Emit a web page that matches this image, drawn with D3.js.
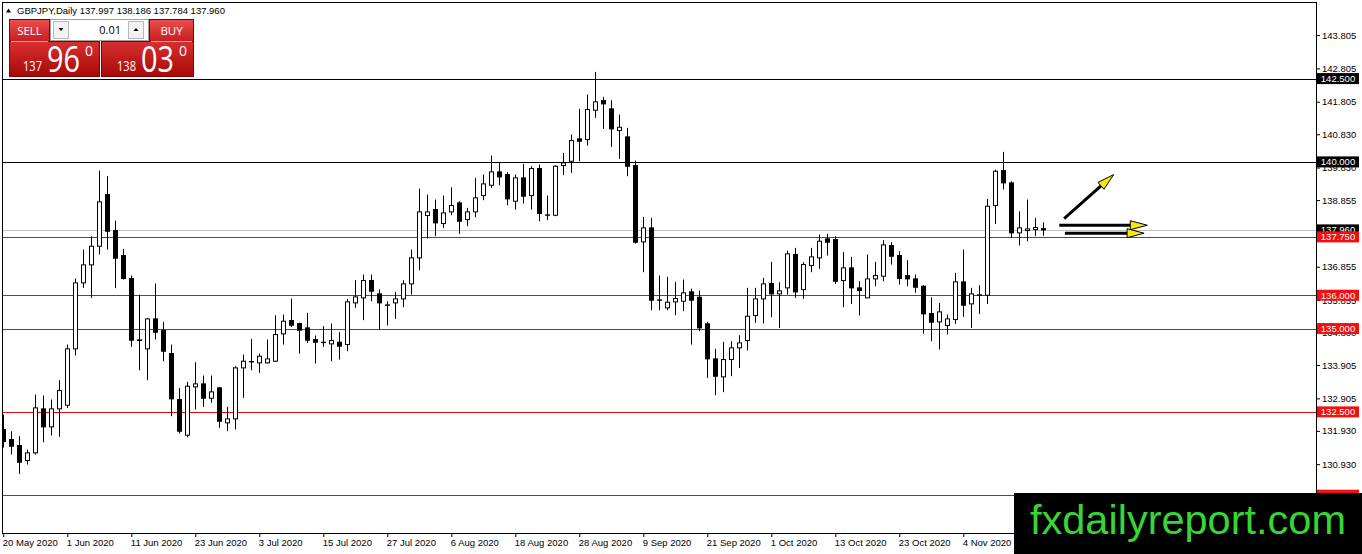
<!DOCTYPE html>
<html>
<head>
<meta charset="utf-8">
<script src="https://cdn.jsdelivr.net/npm/d3@7"></script>
<style>
  html, body { margin: 0; padding: 0; background: #fff; overflow: hidden; }
  svg { display: block; font-family: "Liberation Sans", Arial, sans-serif; }
</style>
</head>
<body>
<div id="chart"></div>
<script>
// GBPJPY daily candles, 20 May 2020 .. 18 Nov 2020 (one bar per weekday)
const symbolName = "GBPJPY,Daily";

const opens = [131.97,131.67,131.49,131.04,131.27,132.59,132.05,132.59,132.70,134.39,
  136.37,136.91,137.47,139.02,137.94,137.19,136.50,134.64,134.39,135.29,
  134.94,134.25,132.87,131.80,133.25,133.34,132.91,133.22,132.17,132.29,
  133.82,134.00,133.97,133.97,134.02,134.84,135.24,135.15,135.02,134.67,
  134.59,134.54,134.59,134.52,135.77,135.92,136.44,136.04,135.70,135.77,
  135.89,136.34,137.12,138.39,138.57,138.15,138.50,138.77,138.27,138.50,
  138.99,139.30,139.70,139.62,138.82,139.52,138.99,139.80,138.40,138.40,
  139.89,140.02,140.69,140.67,141.55,141.84,141.59,140.94,140.75,139.89,
  137.60,138.02,135.85,135.62,135.80,135.82,136.10,135.94,135.14,134.09,
  133.55,134.07,134.42,134.64,135.39,135.89,136.35,136.04,136.22,137.22,
  136.17,136.89,137.12,137.69,137.67,136.44,136.82,136.22,135.92,136.49,
  136.57,137.49,137.19,136.59,136.49,136.27,135.45,135.20,135.09,135.27,
  136.40,135.74,136.00,136.00,138.69,139.74,139.37,137.87,137.94,137.97,
  137.997];

const highs = [132.42,131.92,131.77,131.37,133.02,132.99,132.87,133.45,134.52,136.50,
  137.37,137.77,139.74,139.57,138.24,137.39,136.59,136.01,135.32,136.35,
  135.20,134.52,133.22,133.40,133.99,133.59,133.59,133.25,132.65,133.87,
  134.22,134.69,134.25,134.67,135.40,135.42,135.90,135.17,135.47,134.79,
  135.07,135.15,134.89,135.89,136.45,136.62,136.62,136.17,135.82,136.10,
  136.45,137.37,139.20,139.02,138.87,138.99,139.24,138.82,138.62,139.52,
  139.62,140.19,139.99,139.69,139.62,139.94,139.87,139.92,138.99,139.90,
  140.27,140.82,141.59,142.02,142.70,141.95,141.85,141.42,141.02,140.04,
  138.35,138.32,136.59,136.55,136.40,136.47,136.20,136.14,135.20,134.39,
  134.60,134.62,134.80,136.22,136.22,136.52,137.00,136.39,137.34,137.42,
  136.99,137.42,137.82,137.84,137.77,137.30,137.15,136.42,137.22,137.00,
  137.65,137.59,137.32,137.05,136.62,136.30,135.94,135.77,135.42,136.67,
  137.37,136.22,136.30,138.89,139.77,140.30,139.42,138.52,138.87,138.32,
  138.186];

const lows = [131.43,131.22,130.64,130.92,131.22,131.59,131.79,131.75,132.62,134.19,
  136.22,135.92,137.22,137.37,136.21,136.47,134.45,133.75,133.45,134.67,
  134.02,132.37,131.85,131.74,132.57,132.65,132.77,132.02,131.92,131.97,
  132.92,133.75,133.67,133.95,134.00,134.52,135.05,134.25,134.57,133.95,
  134.45,134.02,134.07,134.32,135.62,135.25,135.82,134.95,135.09,135.29,
  135.64,136.02,136.75,137.70,137.77,138.02,138.40,137.84,138.07,138.34,
  138.85,139.22,139.30,138.70,138.57,138.75,138.57,138.22,138.25,138.37,
  139.60,139.67,140.02,140.49,141.32,140.99,140.45,140.09,139.57,137.55,
  136.69,135.55,135.55,135.55,135.40,135.52,134.52,134.92,133.52,133.00,
  133.09,133.57,133.82,134.34,135.17,135.15,135.34,135.02,136.02,135.92,
  135.89,136.69,136.79,137.19,136.34,135.64,135.74,135.39,135.92,136.27,
  136.42,136.92,136.32,136.27,136.07,134.85,134.62,134.37,134.82,135.14,
  135.35,135.02,135.44,135.74,138.14,139.17,137.72,137.49,137.62,137.77,
  137.784];

const closes = [131.61,131.47,130.99,131.27,132.62,132.05,132.59,133.14,134.39,136.37,
  136.91,137.47,138.80,137.92,137.11,136.50,134.65,134.66,135.29,134.89,
  134.32,132.89,131.92,133.27,133.34,132.91,133.10,132.22,132.29,133.82,
  134.02,134.01,134.17,134.09,134.82,135.22,135.10,134.95,134.65,134.59,
  134.58,134.64,134.47,135.80,135.95,136.44,136.12,135.77,135.71,135.89,
  136.34,137.12,138.50,138.50,138.17,138.47,138.69,138.22,138.50,138.92,
  139.34,139.70,139.55,138.89,139.52,138.97,139.80,138.45,138.41,139.87,
  139.97,140.64,140.62,141.57,141.80,141.74,140.99,141.04,139.87,137.59,
  138.02,135.85,135.86,135.79,135.90,136.07,135.85,135.02,134.09,133.57,
  134.07,134.42,134.57,135.37,135.89,136.34,136.04,136.13,137.24,136.10,
  136.92,137.15,137.62,137.59,136.42,136.82,136.22,136.14,136.49,136.59,
  137.51,137.17,136.50,136.49,136.24,135.44,135.19,135.50,135.29,136.40,
  135.70,136.04,136.01,138.67,139.72,139.37,137.87,138.02,137.99,138.03,
  137.960];

// date labels, one every 8 bars
const tickLabels = ["20 May 2020", "1 Jun 2020", "11 Jun 2020", "23 Jun 2020", "3 Jul 2020",
  "15 Jul 2020", "27 Jul 2020", "6 Aug 2020", "18 Aug 2020", "28 Aug 2020", "9 Sep 2020",
  "21 Sep 2020", "1 Oct 2020", "13 Oct 2020", "23 Oct 2020", "4 Nov 2020", "16 Nov 2020"];
const priceTicks = [143.805, 142.805, 141.805, 140.830, 139.830, 138.855, 137.855,
  136.855, 135.855, 134.880, 133.905, 132.905, 131.930, 130.930];

const blackLevels = [142.5, 140.0];
const redLevels = [137.75, 136.0, 135.0, 132.5, 130.0];
const currentPrice = 137.960;
const bidPrice = 137.960;
const askPrice = 138.030;
const lotSize = "0.01";

// arrows drawn on the chart: bar index / price of tail and tip
const arrowFromBar = [132.6, 132.0, 132.7];
const arrowFromPrice = [138.30, 138.10, 137.86];
const arrowToBar = [138.8, 143.0, 142.6];
const arrowToPrice = [139.62, 138.10, 137.86];

const width = 1362, height = 554;
const plotLeft = 2, plotTop = 2, plotRight = 1316, plotBottom = 533;

const svg = d3.select("#chart").append("svg")
    .attr("width", width)
    .attr("height", height);

const defs = svg.append("defs");
defs.append("clipPath").attr("id", "plot-clip")
  .append("rect")
    .attr("x", plotLeft + 1).attr("y", plotTop + 1)
    .attr("width", plotRight - plotLeft - 1).attr("height", plotBottom - plotTop - 1);

const x = d3.scaleLinear().domain([0, 130]).range([3.3, 1043.3]);
const y = d3.scaleLinear().domain([130, 140]).range([495.2, 161.9]);
const px = i => Math.round(x(i)) + 0.5;
const py = p => Math.round(y(p)) + 0.5;

const bars = opens.map((o, i) => ({ i, o, h: highs[i], l: lows[i], c: closes[i] }));

svg.append("rect").attr("width", width).attr("height", height).attr("fill", "#fff");

const plot = svg.append("g").attr("clip-path", "url(#plot-clip)");

// current price line
plot.append("line")
    .attr("x1", plotLeft).attr("x2", plotRight)
    .attr("y1", py(currentPrice)).attr("y2", py(currentPrice))
    .attr("stroke", "#c0c0c0");

// horizontal levels
plot.selectAll("line.black-level").data(blackLevels).join("line")
    .attr("class", "black-level")
    .attr("x1", plotLeft).attr("x2", plotRight)
    .attr("y1", d => py(d)).attr("y2", d => py(d))
    .attr("stroke", "#000");

plot.selectAll("line.red-level").data(redLevels).join("line")
    .attr("class", "red-level")
    .attr("x1", plotLeft).attr("x2", plotRight)
    .attr("y1", d => py(d)).attr("y2", d => py(d))
    .attr("stroke", "#dd1010");

// candles
plot.selectAll("line.wick").data(bars).join("line")
    .attr("class", "wick")
    .attr("x1", d => px(d.i)).attr("x2", d => px(d.i))
    .attr("y1", d => y(d.h)).attr("y2", d => y(d.l))
    .attr("stroke", "#000");

plot.selectAll("rect.body").data(bars).join("rect")
    .attr("class", "body")
    .attr("x", d => px(d.i) - 2)
    .attr("y", d => y(Math.max(d.o, d.c)))
    .attr("width", 4)
    .attr("height", d => Math.max(0.4, Math.abs(y(d.o) - y(d.c))))
    .attr("fill", d => d.c >= d.o ? "#fff" : "#000")
    .attr("stroke", "#000");

// arrows
arrowFromBar.forEach((fb, k) => {
  const x0 = x(fb), y0 = y(arrowFromPrice[k]);
  const x1 = x(arrowToBar[k]), y1 = y(arrowToPrice[k]);
  const ang = Math.atan2(y1 - y0, x1 - x0);
  const headLen = 17, headW = 4.5;
  const bx = x1 - headLen * Math.cos(ang), by = y1 - headLen * Math.sin(ang);
  plot.append("line")
      .attr("x1", x0).attr("y1", y0).attr("x2", bx).attr("y2", by)
      .attr("stroke", "#000").attr("stroke-width", 3);
  plot.append("path")
      .attr("d", d3.line()([
        [x1, y1],
        [bx + headW * Math.sin(ang), by - headW * Math.cos(ang)],
        [bx - headW * Math.sin(ang), by + headW * Math.cos(ang)]
      ]) + "Z")
      .attr("fill", "#f5e614")
      .attr("stroke", "#000")
      .attr("stroke-width", 1);
});

// frame
svg.append("rect")
    .attr("x", plotLeft + 0.5).attr("y", plotTop + 0.5)
    .attr("width", plotRight - plotLeft).attr("height", plotBottom - plotTop)
    .attr("fill", "none").attr("stroke", "#000");

// price axis
const yAxis = svg.append("g")
    .attr("transform", `translate(${plotRight},0)`)
    .call(d3.axisRight(y).tickValues(priceTicks).tickSize(4).tickPadding(2)
      .tickFormat(d3.format(".3f")));
yAxis.select(".domain").remove();
yAxis.selectAll("text")
    .attr("font-family", "Liberation Sans, Arial, sans-serif")
    .attr("font-size", 9.5).attr("fill", "#000");

// time axis
const xAxis = svg.append("g")
    .attr("transform", `translate(0,${plotBottom})`)
    .call(d3.axisBottom(x).tickValues(d3.range(0, 129, 8)).tickSize(4).tickPadding(2)
      .tickFormat(i => tickLabels[i / 8]));
xAxis.select(".domain").remove();
xAxis.selectAll("text")
    .attr("text-anchor", "start")
    .attr("x", -1)
    .attr("font-family", "Liberation Sans, Arial, sans-serif")
    .attr("font-size", 9.5).attr("fill", "#000");

// level labels on the price axis
function priceTag(value, fill) {
  svg.append("rect")
      .attr("x", plotRight + 1).attr("y", y(value) - 5.5)
      .attr("width", 42).attr("height", 11)
      .attr("fill", fill);
  svg.append("text")
      .attr("x", plotRight + 22).attr("y", y(value) + 3.5)
      .attr("text-anchor", "middle")
      .attr("font-size", 9.5).attr("fill", "#fff")
      .text(d3.format(".3f")(value));
}
blackLevels.forEach(v => priceTag(v, "#000"));
priceTag(currentPrice, "#000");
redLevels.forEach(v => priceTag(v, "#f01010"));

// header line
svg.append("path").attr("d", "M6,12.5L8.5,8.5L11,12.5Z").attr("fill", "#000");
const last = bars[bars.length - 1];
svg.append("text")
    .attr("x", 17).attr("y", 13.5)
    .attr("font-size", 9.5).attr("fill", "#000")
    .text(`${symbolName}  ${[last.o, last.h, last.l, last.c].map(d3.format(".3f")).join(" ")}`);

// one-click trading panel
const gBtn = defs.append("linearGradient").attr("id", "btn").attr("x1", 0).attr("y1", 0).attr("x2", 0).attr("y2", 1);
gBtn.append("stop").attr("offset", "0%").attr("stop-color", "#ea5050");
gBtn.append("stop").attr("offset", "100%").attr("stop-color", "#c81c1c");
const gBox = defs.append("linearGradient").attr("id", "box").attr("x1", 0).attr("y1", 0).attr("x2", 0).attr("y2", 1);
gBox.append("stop").attr("offset", "0%").attr("stop-color", "#d83030");
gBox.append("stop").attr("offset", "100%").attr("stop-color", "#a80808");

const panel = svg.append("g").attr("font-family", "Open Sans, Liberation Sans, sans-serif");
panel.append("rect").attr("x", 9.5).attr("y", 41.5).attr("width", 90).attr("height", 35)
    .attr("fill", "url(#box)").attr("stroke", "#8a0000");
panel.append("rect").attr("x", 101.5).attr("y", 41.5).attr("width", 92).attr("height", 35)
    .attr("fill", "url(#box)").attr("stroke", "#8a0000");
panel.append("rect").attr("x", 9.5).attr("y", 19.5).attr("width", 40).attr("height", 22)
    .attr("fill", "url(#btn)").attr("stroke", "#8a0000");
panel.append("rect").attr("x", 149.5).attr("y", 19.5).attr("width", 44).attr("height", 22)
    .attr("fill", "url(#btn)").attr("stroke", "#8a0000");
panel.append("line").attr("x1", 11).attr("x2", 48).attr("y1", 41.5).attr("y2", 41.5).attr("stroke", "#f0a0a0");
panel.append("line").attr("x1", 151).attr("x2", 192).attr("y1", 41.5).attr("y2", 41.5).attr("stroke", "#f0a0a0");

// lot size control
panel.append("rect").attr("x", 50.5).attr("y", 19.5).attr("width", 98).attr("height", 21)
    .attr("fill", "#fff").attr("stroke", "#a0a0a0");
panel.append("rect").attr("x", 53.5).attr("y", 21.5).attr("width", 15).attr("height", 17)
    .attr("fill", "#f2f2f2").attr("stroke", "#b8b8b8");
panel.append("rect").attr("x", 128.5).attr("y", 21.5).attr("width", 15).attr("height", 17)
    .attr("fill", "#f2f2f2").attr("stroke", "#b8b8b8");
panel.append("path").attr("d", "M58.5,28L63.5,28L61,31Z").attr("fill", "#000");
panel.append("path").attr("d", "M133.5,31L138.5,31L136,28Z").attr("fill", "#000");
panel.append("text").attr("x", 121).attr("y", 34).attr("text-anchor", "end")
    .attr("font-size", 11).attr("fill", "#000").text(lotSize);

panel.append("text").attr("x", 29.5).attr("y", 35).attr("text-anchor", "middle")
    .attr("font-size", 11.5).attr("fill", "#fff").text("SELL");
panel.append("text").attr("x", 171.5).attr("y", 35).attr("text-anchor", "middle")
    .attr("font-size", 11.5).attr("fill", "#fff").text("BUY");

function quote(price, x0) {
  const s = d3.format(".3f")(price);
  const big = s.slice(0, 3), pips = s.slice(4, 6), frac = s.slice(6);
  panel.append("text").attr("x", x0 + 2).attr("y", 70.5)
      .attr("font-size", 14).attr("fill", "#fff")
      .attr("textLength", 19).attr("lengthAdjust", "spacingAndGlyphs").text(big);
  panel.append("text").attr("x", x0 + 26).attr("y", 71.5)
      .attr("font-size", 37).attr("fill", "#fff")
      .attr("textLength", 33).attr("lengthAdjust", "spacingAndGlyphs").text(pips);
  panel.append("text").attr("x", x0 + 64).attr("y", 56)
      .attr("font-size", 14).attr("fill", "#fff").text(frac);
}
quote(bidPrice, 21);
quote(askPrice, 115);

// watermark
svg.append("rect").attr("x", 1014).attr("y", 493).attr("width", 348).attr("height", 61).attr("fill", "#000");
svg.append("text")
    .attr("x", 1030).attr("y", 534)
    .attr("font-family", "Liberation Sans, Arial, sans-serif")
    .attr("font-size", 41)
    .attr("textLength", 316).attr("lengthAdjust", "spacingAndGlyphs")
    .attr("fill", "#36d636")
    .text("fxdailyreport.com");
</script>
</body>
</html>
